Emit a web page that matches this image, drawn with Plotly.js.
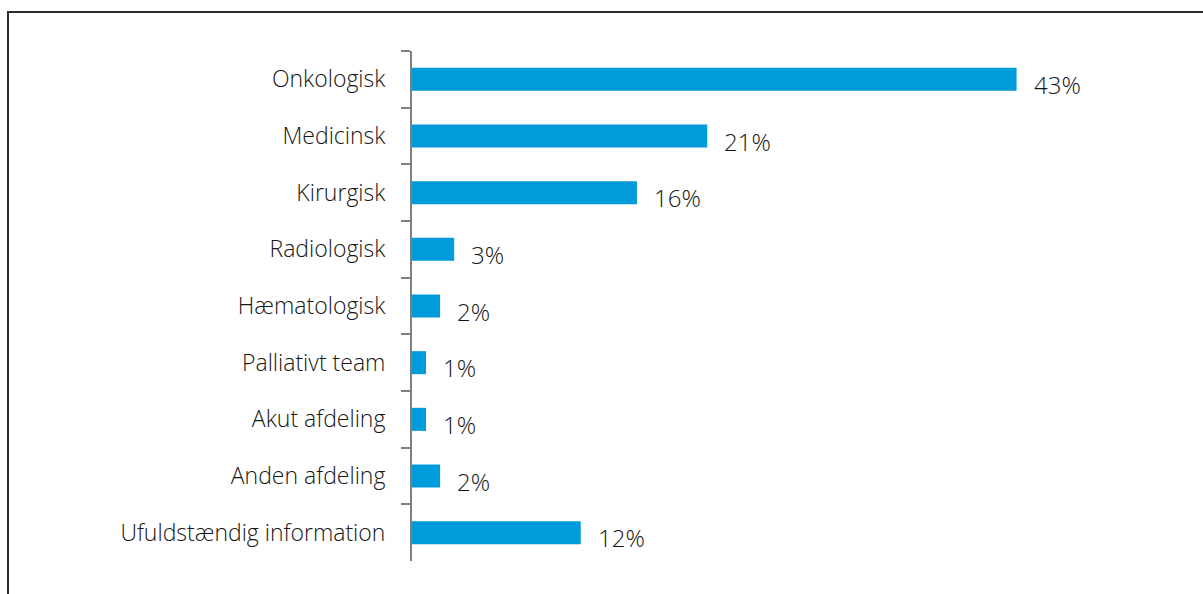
<!DOCTYPE html>
<html>
<head>
<meta charset="utf-8">
<script src="https://cdn.plot.ly/plotly-3.0.1.min.js"></script>
<style>
  html, body { margin: 0; padding: 0; background: #fff; }
  #wrap { position: relative; width: 1203px; height: 594px; }
  #chart { width: 1203px; height: 594px; }
  #frame { position: absolute; left: 7px; top: 11px; width: 1196px; height: 583px;
           border-left: 2px solid #2b2b2b; border-top: 2px solid #2b2b2b;
           box-sizing: border-box; pointer-events: none; }
</style>
</head>
<body>
<div id="wrap">
  <div id="chart"></div>
  <div id="frame"></div>
</div>
<script>
const categories = ["Onkologisk", "Medicinsk", "Kirurgisk", "Radiologisk", "Hæmatologisk",
  "Palliativt team", "Akut afdeling", "Anden afdeling", "Ufuldstændig information"];
const values = [43, 21, 16, 3, 2, 1, 1, 2, 12];
const valueLabels = values.map(v => v + "%");

const fontFamily = "'Open Sans', 'Noto Sans', sans-serif";
const textColor = "#161616";

const trace = {
  type: "bar",
  orientation: "h",
  x: values,
  y: categories,
  marker: { color: "#009bdb" },
  hoverinfo: "skip"
};

const annotations = categories.map((c, i) => ({
  x: values[i], y: c, xref: "x", yref: "y",
  text: valueLabels[i], showarrow: false,
  xanchor: "left", yanchor: "middle", xshift: 15, yshift: -5,
  font: { family: fontFamily, size: 24, color: textColor, weight: 300 }
}));

const layout = {
  width: 1203, height: 594,
  margin: { l: 412, r: 88, t: 51, b: 33, pad: 0 },
  paper_bgcolor: "#fff", plot_bgcolor: "#fff",
  bargap: 0.594,
  showlegend: false,
  font: { family: fontFamily, size: 23, color: textColor, weight: 300 },
  xaxis: { range: [0, 50], visible: false, showgrid: false, zeroline: false, fixedrange: true },
  yaxis: {
    autorange: "reversed",
    type: "category",
    showgrid: false, zeroline: false,
    showline: true, linecolor: "#7f7f7f", linewidth: 2,
    ticks: "outside", tickson: "boundaries", ticklen: 9, tickwidth: 2, tickcolor: "#7f7f7f",
    ticklabelstandoff: 20,
    tickfont: { family: fontFamily, size: 23, color: textColor, weight: 300 },
    fixedrange: true
  },
  shapes: [
    { type: "line", xref: "x", xsizemode: "pixel", xanchor: 0, x0: -10, x1: 0,
      yref: "y domain", y0: 0, y1: 0, line: { color: "#7f7f7f", width: 2 } },
    { type: "line", xref: "x", xsizemode: "pixel", xanchor: 0, x0: -10, x1: 0,
      yref: "y domain", y0: 1, y1: 1, line: { color: "#7f7f7f", width: 2 } }
  ],
  annotations: annotations
};

Plotly.newPlot("chart", [trace], layout, { displayModeBar: false, staticPlot: true });
</script>
</body>
</html>
